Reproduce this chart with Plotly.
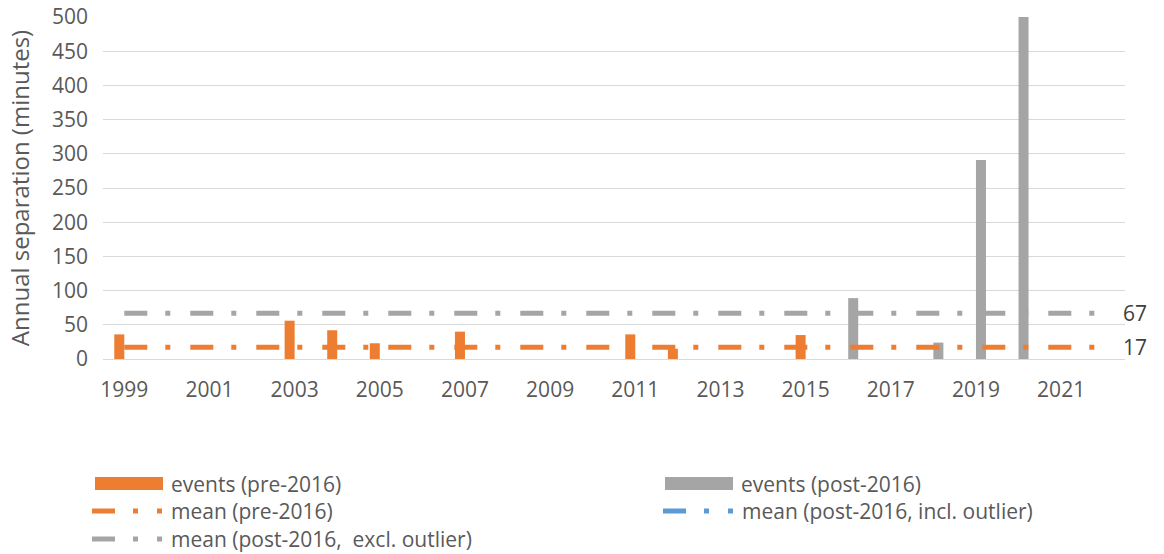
import plotly.graph_objects as go

# ---- data ----
years = [str(y) for y in range(1999, 2023)]
tick_labels = [str(y) for y in range(1999, 2023, 2)]

# annual separation (minutes) per year
pre_2016_events = [36, 0, 0, 0, 56, 42, 23, 0, 40, 0, 0, 0, 36, 15, 0, 0, 35,
                   None, None, None, None, None, None, None]
post_2016_events = [None] * 17 + [89, 0, 24, 291, 3725, 0, 0]

mean_pre_2016 = 17
mean_post_incl_outlier = 590
mean_post_excl_outlier = 67

ORANGE = "#ED7D31"
GRAY = "#A5A5A5"
BLUE = "#5B9BD5"
TEXT = "#595959"
FONT = "Open Sans"
FS = 21

W, H = 1164, 554
L, R, T, B = 103, 39, 17, 195
DASH = "23px,18px,5px,20px"

fig = go.Figure()

fig.add_trace(go.Bar(x=years, y=pre_2016_events, name="events (pre-2016)",
                     marker=dict(color=ORANGE, line=dict(width=0))))
fig.add_trace(go.Bar(x=years, y=post_2016_events, name="events (post-2016)",
                     marker=dict(color=GRAY, line=dict(width=0))))

for val, col, name in [
    (mean_pre_2016, ORANGE, "mean (pre-2016)"),
    (mean_post_incl_outlier, BLUE, "mean (post-2016, incl. outlier)"),
    (mean_post_excl_outlier, GRAY, "mean (post-2016,  excl. outlier)"),
]:
    fig.add_trace(go.Scatter(x=years, y=[val] * len(years), mode="lines", name=name,
                             line=dict(color=col, width=5, dash=DASH)))

# value labels at the end of the mean lines (x given as category index)
annotations = []
for val in (mean_post_excl_outlier, mean_pre_2016):
    annotations.append(dict(x=len(years) - 1, y=val, xref="x", yref="y", text=str(val),
                            showarrow=False, xanchor="left", yanchor="middle", xshift=17,
                            font=dict(family=FONT, size=FS, color="#404040")))

# ---- hand-built legend below the plot ----
pw, ph = W - L - R, H - T - B


def px(x):
    return (x - L) / pw


def py(y):
    return (H - B - y) / ph


shapes = []
legend_rows = [
    ("bar", ORANGE, "events (pre-2016)", 95, 484),
    ("bar", GRAY, "events (post-2016)", 665, 484),
    ("line", ORANGE, "mean (pre-2016)", 92, 511),
    ("line", BLUE, "mean (post-2016, incl. outlier)", 663, 511),
    ("line", GRAY, "mean (post-2016,\u00a0 excl. outlier)", 92, 539),
]
for kind, col, label, x0, yc in legend_rows:
    if kind == "bar":
        shapes.append(dict(type="rect", xref="paper", yref="paper",
                           x0=px(x0), x1=px(x0 + 68), y0=py(yc - 7), y1=py(yc + 6),
                           fillcolor=col, line=dict(width=0)))
        tx = x0 + 74
    else:
        shapes.append(dict(type="line", xref="paper", yref="paper",
                           x0=px(x0), x1=px(x0 + 70), y0=py(yc), y1=py(yc),
                           line=dict(color=col, width=5, dash="23px,18px,5px,19px")))
        tx = x0 + 77
    annotations.append(dict(x=px(tx), y=py(yc), xref="paper", yref="paper", text=label,
                            showarrow=False, xanchor="left", yanchor="middle",
                            font=dict(family=FONT, size=FS, color=TEXT)))

fig.update_layout(
    width=W, height=H,
    margin=dict(l=L, r=R, t=T, b=B, pad=0, autoexpand=False),
    paper_bgcolor="white", plot_bgcolor="white",
    barmode="group", bargap=0.53, bargroupgap=0,
    showlegend=False,
    font=dict(family=FONT, size=FS, color=TEXT),
    shapes=shapes,
    annotations=annotations,
)
fig.update_xaxes(type="category", categoryorder="array", categoryarray=years,
                 range=[-0.5, len(years) - 0.5], automargin=False,
                 tickmode="array", tickvals=tick_labels, ticktext=tick_labels,
                 showgrid=False, showline=True, linecolor="#D9D9D9", linewidth=1,
                 ticks="", ticklabelstandoff=12,
                 tickfont=dict(family=FONT, size=FS, color=TEXT))
fig.update_yaxes(range=[0, 500], dtick=50, automargin=False,
                 showgrid=True, gridcolor="#D9D9D9", gridwidth=1,
                 zeroline=False, ticks="", ticklabelstandoff=14,
                 title=dict(text="Annual separation (minutes)", standoff=15,
                            font=dict(family=FONT, size=24, color=TEXT)),
                 tickfont=dict(family=FONT, size=FS, color=TEXT))

fig.write_html("out.html")
